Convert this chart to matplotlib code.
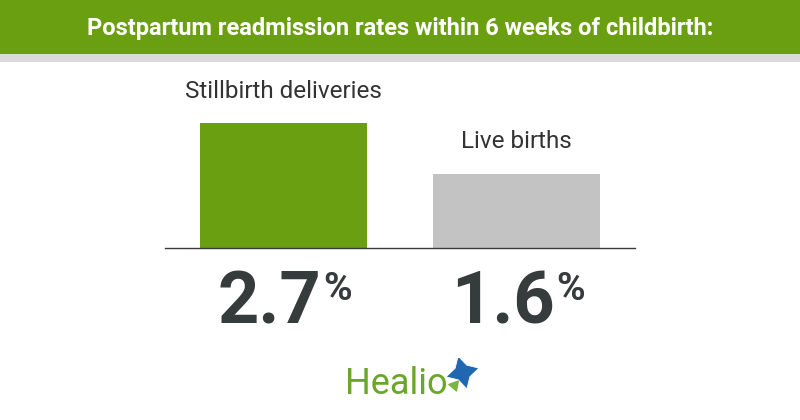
import matplotlib
matplotlib.use("Agg")
import matplotlib.pyplot as plt
from matplotlib.patches import Rectangle

# data
categories = ["Stillbirth deliveries", "Live births"]
values = [2.7, 1.6]
value_labels = ["2.7", "1.6"]
title = "Postpartum readmission rates within 6 weeks of childbirth:"

GREEN = "#6a9f12"
GREY_BAR = "#c3c3c3"
DARK = "#363b3c"

W, H = 800, 420
fig = plt.figure(figsize=(8, 4.2), dpi=100)
fig.patch.set_facecolor("white")

# header band
fig.patches.append(Rectangle((0, 1 - 54 / H), 1, 54 / H, transform=fig.transFigure,
                             facecolor=GREEN, edgecolor="none", zorder=0))
fig.patches.append(Rectangle((0, 1 - 62 / H), 1, 8 / H, transform=fig.transFigure,
                             facecolor="#dadada", edgecolor="none", zorder=0))
fig.text(0.5, 1 - 29 / H, title, ha="center", va="center", color="white",
         fontsize=17, fontweight="bold",
         family=["Liberation Sans Narrow", "Roboto", "DejaVu Sans"])

# bar axes, placed in pixels
ax_left, ax_right = 165, 635
ax_bottom = H - 248
ax_top = H - 65
ax = fig.add_axes([ax_left / W, ax_bottom / H, (ax_right - ax_left) / W,
                   (ax_top - ax_bottom) / H])
x = [0, 1]
ax.bar(x, values, width=0.717, color=[GREEN, GREY_BAR], zorder=2)
ax.set_xlim(-0.5086, 1.5086)
ax.set_ylim(0, 183 / 46.3)
ax.axis("off")
ax.axhline(0, color="#3a3a3a", linewidth=1.0, zorder=3, clip_on=False)

for xi, v, lab in zip(x, values, categories):
    ax.annotate(lab, (xi, v), xytext=(0, 23), textcoords="offset points",
                ha="center", va="center", fontsize=17.5, color="#333333",
                family=["Roboto", "DejaVu Sans"])

# big numbers with superscript percent
fig.canvas.draw()
renderer = fig.canvas.get_renderer()
for xi, lab in zip(x, value_labels):
    t = ax.annotate(lab, (xi, 0), xytext=(-10, -40), textcoords="offset points",
                    ha="center", va="center", fontsize=52, fontweight="bold",
                    color=DARK, family=["Roboto", "DejaVu Sans"])
    bb = t.get_window_extent(renderer)
    fig.text((bb.x1 + 2) / W, (bb.y1 - 2) / H, "%", ha="left", va="top",
             fontsize=28, fontweight="bold", color=DARK,
             family=["Roboto", "DejaVu Sans"])

# Healio logo
fig.text(396 / W, 1 - 384 / H, "Healio", ha="center", va="center",
         fontsize=26, color="#6aa62a", family=["Roboto", "DejaVu Sans"])
logo = fig.add_axes([440 / W, 1 - 392 / H, 40 / W, 34 / H])
logo.axis("off")
logo.set_xlim(0, 1)
logo.set_ylim(0, 1)
logo.scatter([0.55], [0.58], marker=(4, 1, 15), s=600, color="#2166b0",
             edgecolors="white", linewidths=0.6, zorder=2)
logo.scatter([0.36], [0.2], marker=(3, 1, 200), s=70, color="#7cb342", zorder=3)

fig.savefig("out.png", dpi=100, facecolor="white")
